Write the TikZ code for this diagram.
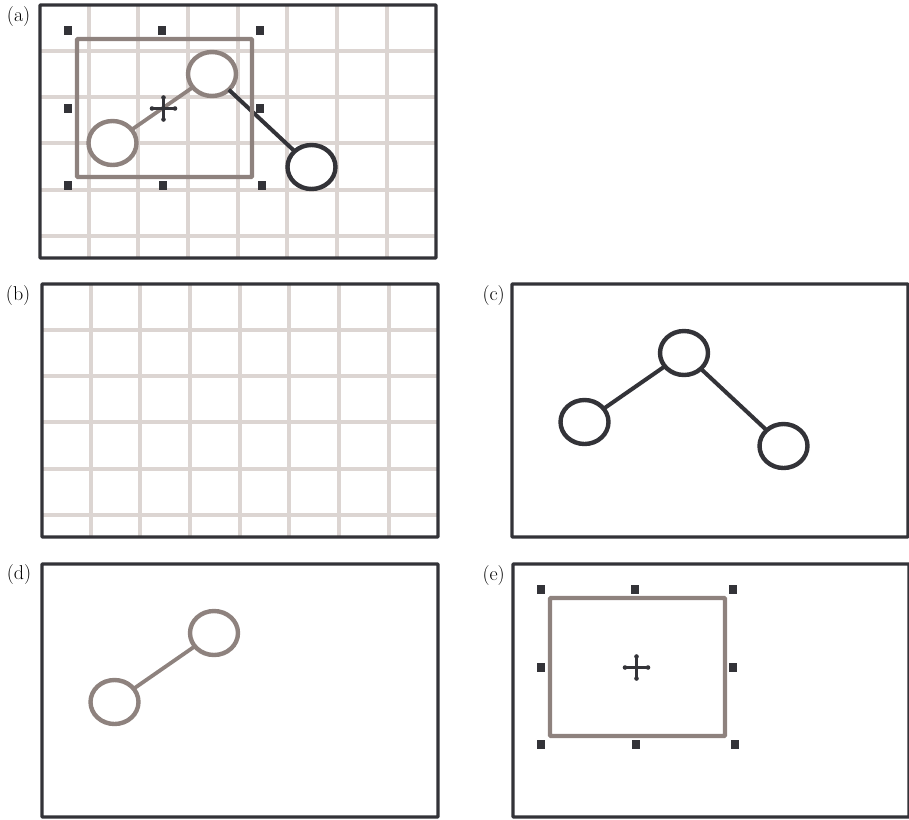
\documentclass[tikz,border=0pt]{standalone}
\usepackage{fontspec}
\usetikzlibrary{shapes.geometric}
\definecolor{darkc}{HTML}{333338}
\definecolor{grayc}{HTML}{8E827E}
\definecolor{gridc}{HTML}{DCD5D2}
\tikzset{
  panelframe/.style={draw=darkc, line width=3.4pt, rounded corners=0.8pt},
  gridline/.style={draw=gridc, line width=4pt},
  vtx/.style={ellipse, line width=4.4pt, fill=white, minimum width=48pt, minimum height=44pt, inner sep=0pt, outer sep=0pt},
  darkv/.style={vtx, draw=darkc},
  grayv/.style={vtx, draw=grayc},
  darkedge/.style={draw=darkc, line width=4pt},
  grayedge/.style={draw=grayc, line width=3.8pt},
  selbox/.style={draw=grayc, line width=4.2pt, rounded corners=0.8pt},
  handle/.style={rectangle, fill=darkc, minimum size=8.5pt, inner sep=0pt},
  crossline/.style={draw=darkc, line width=2.5pt},
  panellabel/.style={anchor=base east, inner sep=0pt, font=\fontsize{20}{24}\selectfont}
}
\newcommand{\panelgrid}{%
  \foreach \k in {0,...,6} {\draw[gridline] ({48.5+49.7*\k},0) -- ({48.5+49.7*\k},253);}
  \foreach \k in {0,...,4} {\draw[gridline] (0,{46+46.2*\k}) -- (396,{46+46.2*\k});}
}
\newcommand{\panelframe}{\draw[panelframe] (0,0) rectangle (396,253);}
\newcommand{\selection}[1]{%
  \draw[selbox] (37,34) rectangle (212,172);
  \node[handle] (#1h1) at (28,25.5) {};
  \node[handle] (#1h2) at (122,25.5) {};
  \node[handle] (#1h3) at (220,25.5) {};
  \node[handle] (#1h4) at (28,103.5) {};
  \node[handle] (#1h5) at (220,103.5) {};
  \node[handle] (#1h6) at (28,180.5) {};
  \node[handle] (#1h7) at (123,180.5) {};
  \node[handle] (#1h8) at (222,180.5) {};
  \coordinate (#1m) at (123.5,103.5);
  \draw[crossline] ([xshift=-11.5pt]#1m) -- ([xshift=11.5pt]#1m);
  \draw[crossline] ([yshift=11pt]#1m) -- ([yshift=-11pt]#1m);
  \foreach \dx/\dy in {-11.5/0, 11.5/0, 0/11, 0/-11}
    {\fill[darkc] ([xshift=\dx pt, yshift=\dy pt]#1m) circle (2.3pt);}
}
\begin{document}
\begin{tikzpicture}[x=1pt, y=-1pt]
\useasboundingbox (0,0) rectangle (909,819);
% labels
\node[panellabel] (la) at (30.5,21) {(a)};
\node[panellabel] (lb) at (30.5,300) {(b)};
\node[panellabel] (lc) at (505,300) {(c)};
\node[panellabel] (ld) at (31.5,579) {(d)};
\node[panellabel] (le) at (505,580.5) {(e)};
% (a)
\begin{scope}[shift={(40,5)}]
  \panelgrid
  \panelframe
  \node[grayv] (a1) at (72.5,138) {};
  \node[grayv] (a2) at (172,69) {};
  \node[darkv] (a3) at (271.5,162) {};
  \draw[grayedge] (a1) -- (a2);
  \draw[darkedge] (a2) -- (a3);
  \selection{a}
\end{scope}
% (b)
\begin{scope}[shift={(42,284)}]
  \panelgrid
  \panelframe
\end{scope}
% (c)
\begin{scope}[shift={(512,284)}]
  \panelframe
  \node[darkv] (c1) at (72.5,138) {};
  \node[darkv] (c2) at (172,69) {};
  \node[darkv] (c3) at (271.5,162) {};
  \draw[darkedge] (c1) -- (c2);
  \draw[darkedge] (c2) -- (c3);
\end{scope}
% (d)
\begin{scope}[shift={(42,564)}]
  \panelframe
  \node[grayv] (d1) at (72.5,138) {};
  \node[grayv] (d2) at (172,69) {};
  \draw[grayedge] (d1) -- (d2);
\end{scope}
% (e)
\begin{scope}[shift={(513,564)}]
  \panelframe
  \selection{e}
\end{scope}
\end{tikzpicture}
\end{document}
